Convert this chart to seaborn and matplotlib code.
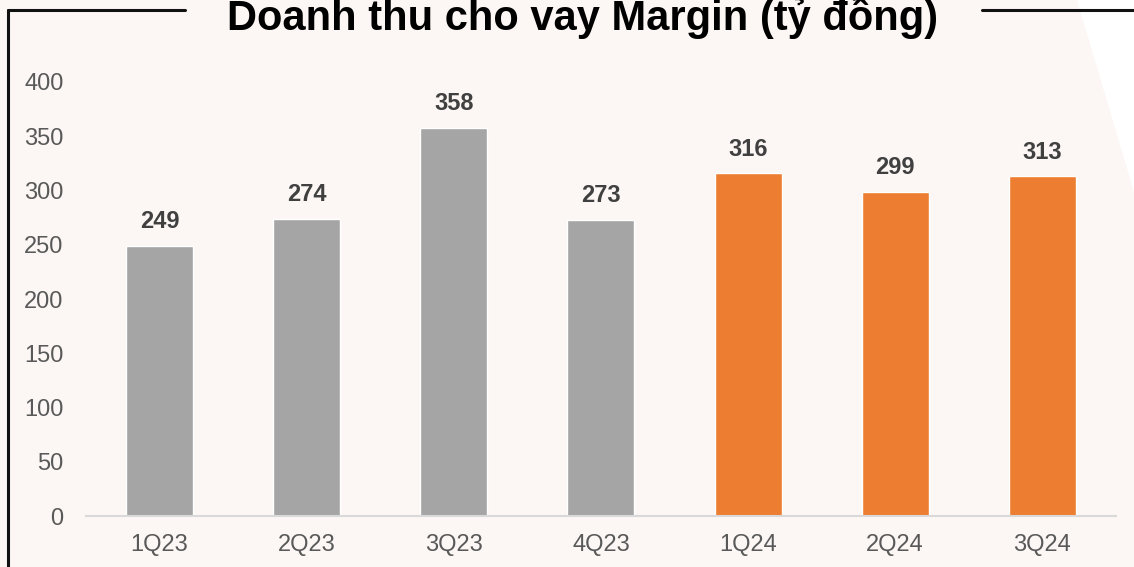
import matplotlib
matplotlib.use("Agg")
import matplotlib.pyplot as plt
import seaborn as sns
import pandas as pd
from matplotlib.lines import Line2D
from matplotlib.patches import Polygon

# Data
quarters = ["1Q23", "2Q23", "3Q23", "4Q23", "1Q24", "2Q24", "3Q24"]
revenue = [249, 274, 358, 273, 316, 299, 313]
year = ["2023", "2023", "2023", "2023", "2024", "2024", "2024"]

df = pd.DataFrame({"quarter": quarters, "revenue": revenue, "year": year})

bg = "#FCF7F4"
sns.set_style("white")
plt.rcParams["font.family"] = ["Liberation Sans", "DejaVu Sans"]

fig = plt.figure(figsize=(11.34, 5.67), dpi=100, facecolor=bg)
ax = fig.add_axes([0.0758, 0.0899, 0.9082, 0.7655])
ax.set_facecolor("none")

sns.barplot(data=df, x="quarter", y="revenue", hue="year",
            palette={"2023": "#A5A5A5", "2024": "#ED7D31"},
            width=0.455, dodge=False, legend=False, ax=ax, saturation=1)

for cont in ax.containers:
    ax.bar_label(cont, fmt="%d", padding=9, fontsize=17, fontweight="bold",
                 color="#404040")

ax.set_ylim(0, 400)
ax.set_xlim(-0.5, 6.5)
ax.set_yticks(range(0, 401, 50))
ax.set_xlabel("")
ax.set_ylabel("")
ax.tick_params(axis="y", length=0, pad=16, labelsize=17, labelcolor="#595959")
ax.tick_params(axis="x", length=0, pad=13, labelsize=17, labelcolor="#595959")
for s in ["top", "right", "left"]:
    ax.spines[s].set_visible(False)
ax.spines["bottom"].set_color("#D9D9D9")
ax.spines["bottom"].set_linewidth(1.5)

# white corner at top right
fig.add_artist(Polygon([[1077 / 1134, 1], [1, 1], [1, 1 - 192 / 567]],
                       closed=True, transform=fig.transFigure,
                       facecolor="white", edgecolor="none", zorder=-1))

# frame lines
y_top = 1 - 9.5 / 567
fig.add_artist(Line2D([7.5 / 1134, 7.5 / 1134], [0, y_top], color="#111111", lw=2.2))
fig.add_artist(Line2D([7.5 / 1134, 185 / 1134], [y_top, y_top], color="#111111", lw=2.2))
fig.add_artist(Line2D([982 / 1134, 1], [y_top, y_top], color="#111111", lw=2.2))

fig.text(0.5137, 1 - 30 / 567, "Doanh thu cho vay Margin (tỷ đồng)",
         ha="center", va="baseline", fontsize=30, fontweight="bold", color="black")

fig.savefig("out.png", dpi=100, facecolor=bg)
